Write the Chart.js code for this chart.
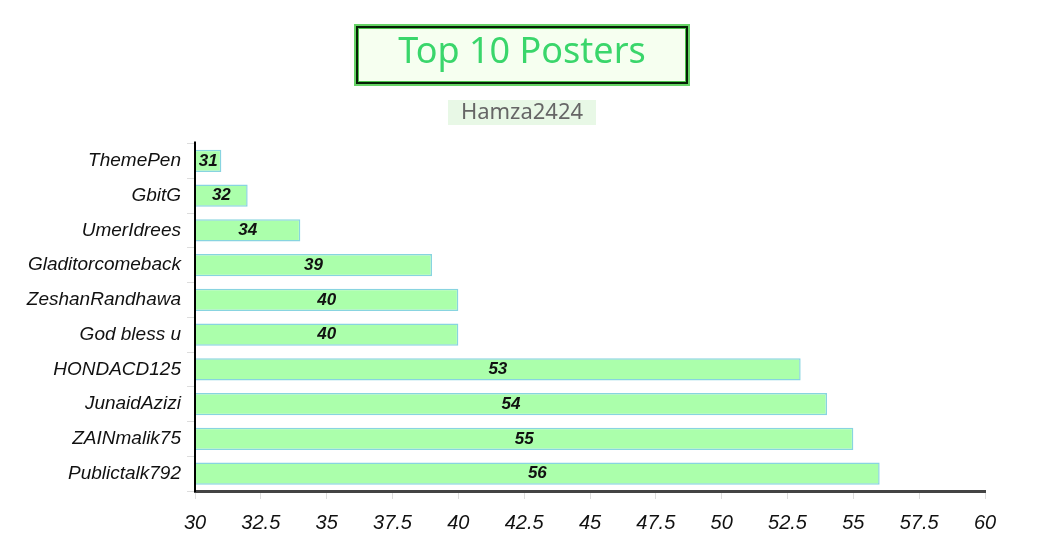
<!DOCTYPE html>
<html>
<head>
<meta charset="utf-8">
<script src="https://cdn.jsdelivr.net/npm/chart.js@4/dist/chart.umd.min.js"></script>
<style>
    body { margin: 0; background: #fff; }
    #wrap { width: 1051px; height: 551px; }
</style>
</head>
<body>
<div id="wrap"><canvas id="postersChart"></canvas></div>
<script>
// 数据
const posters = ['ThemePen', 'GbitG', 'UmerIdrees', 'Gladitorcomeback', 'ZeshanRandhawa',
    'God bless u', 'HONDACD125', 'JunaidAzizi', 'ZAINmalik75', 'Publictalk792'];
const postCounts = [31, 32, 34, 39, 40, 40, 53, 54, 55, 56];
const xMin = 30;
const xMax = 60;
const xStep = 2.5;

const handFont = "'Liberation Sans', sans-serif";

// 标题居中到整个画布
const centerTitles = {
    id: 'centerTitles',
    afterLayout(chart) {
        chart.boxes.forEach(box => {
            if (box.position === 'top' && box.fullSize) {
                box.left = 0;
                box.right = chart.width - 7;
                box.width = box.right - box.left;
            }
        });
    }
};

// 标题背景框
const titleBoxes = {
    id: 'titleBoxes',
    beforeDraw(chart) {
        const ctx = chart.ctx;
        ctx.save();
        // 主标题框
        ctx.fillStyle = '#f6fff0';
        ctx.fillRect(354, 24, 336, 62);
        ctx.strokeStyle = '#66d466';
        ctx.lineWidth = 2;
        ctx.strokeRect(355, 25, 334, 60);
        ctx.strokeStyle = '#062006';
        ctx.lineWidth = 2;
        ctx.strokeRect(357, 27, 330, 56);
        ctx.strokeStyle = '#4cc44c';
        ctx.lineWidth = 1;
        ctx.strokeRect(358.5, 28.5, 327, 53);
        // 副标题背景
        ctx.fillStyle = '#e8f8e6';
        ctx.fillRect(448, 100, 148, 25);
        ctx.restore();
    }
};

// 柱内数值 + y轴线
const barValues = {
    id: 'barValues',
    afterDatasetsDraw(chart) {
        const ctx = chart.ctx;
        const meta = chart.getDatasetMeta(0);
        const left = chart.scales.x.getPixelForValue(xMin);
        const area = chart.chartArea;
        ctx.save();
        ctx.strokeStyle = '#000';
        ctx.lineWidth = 2;
        ctx.beginPath();
        ctx.moveTo(left, area.top - 2);
        ctx.lineTo(left, area.bottom);
        ctx.stroke();

        ctx.font = "italic bold 17px " + handFont;
        ctx.fillStyle = '#111';
        ctx.textAlign = 'center';
        ctx.textBaseline = 'middle';
        meta.data.forEach((bar, i) => {
            const mid = (bar.x + left) / 2;
            ctx.fillText(String(postCounts[i]), mid, bar.y);
        });
        ctx.restore();
    }
};

document.addEventListener('DOMContentLoaded', function() {
    const canvas = document.getElementById('postersChart');
    new Chart(canvas, {
        type: 'bar',
        data: {
            labels: posters,
            datasets: [{
                label: 'Posts',
                data: postCounts,
                backgroundColor: '#abffab',
                borderColor: '#88d4e0',
                borderWidth: 1.5,
                barPercentage: 0.8,
                categoryPercentage: 0.8
            }]
        },
        options: {
            indexAxis: 'y',
            responsive: true,
            maintainAspectRatio: false,
            animation: false,
            layout: {
                padding: { left: 0, right: 66, top: 0, bottom: 4 }
            },
            plugins: {
                legend: { display: false },
                tooltip: { enabled: false },
                title: {
                    display: true,
                    text: 'Top 10 Posters',
                    color: '#3ad66b',
                    font: { family: "'Noto Sans', sans-serif", size: 36, weight: 'normal' },
                    padding: { top: 31, bottom: 13 }
                },
                subtitle: {
                    display: true,
                    text: 'Hamza2424',
                    color: '#666',
                    font: { family: "'Noto Sans', sans-serif", size: 22, weight: 'normal' },
                    padding: { top: 12, bottom: 18 }
                }
            },
            scales: {
                x: {
                    type: 'linear',
                    min: xMin,
                    max: xMax,
                    ticks: {
                        stepSize: xStep,
                        color: '#111',
                        font: { family: handFont, size: 20, style: 'italic' },
                        padding: 12
                    },
                    grid: {
                        drawOnChartArea: false,
                        drawTicks: true,
                        tickLength: 8,
                        color: '#ddd'
                    },
                    border: { color: '#444', width: 3 }
                },
                y: {
                    ticks: {
                        color: '#111',
                        font: { family: handFont, size: 19, style: 'italic' },
                        padding: 6
                    },
                    grid: {
                        drawOnChartArea: false,
                        drawTicks: true,
                        tickLength: 8,
                        color: '#ddd'
                    },
                    border: { color: '#000', width: 2 },
                    afterFit(scale) {
                        scale.width = 195;
                    }
                }
            }
        },
        plugins: [centerTitles, titleBoxes, barValues]
    });
});
</script>
</body>
</html>
